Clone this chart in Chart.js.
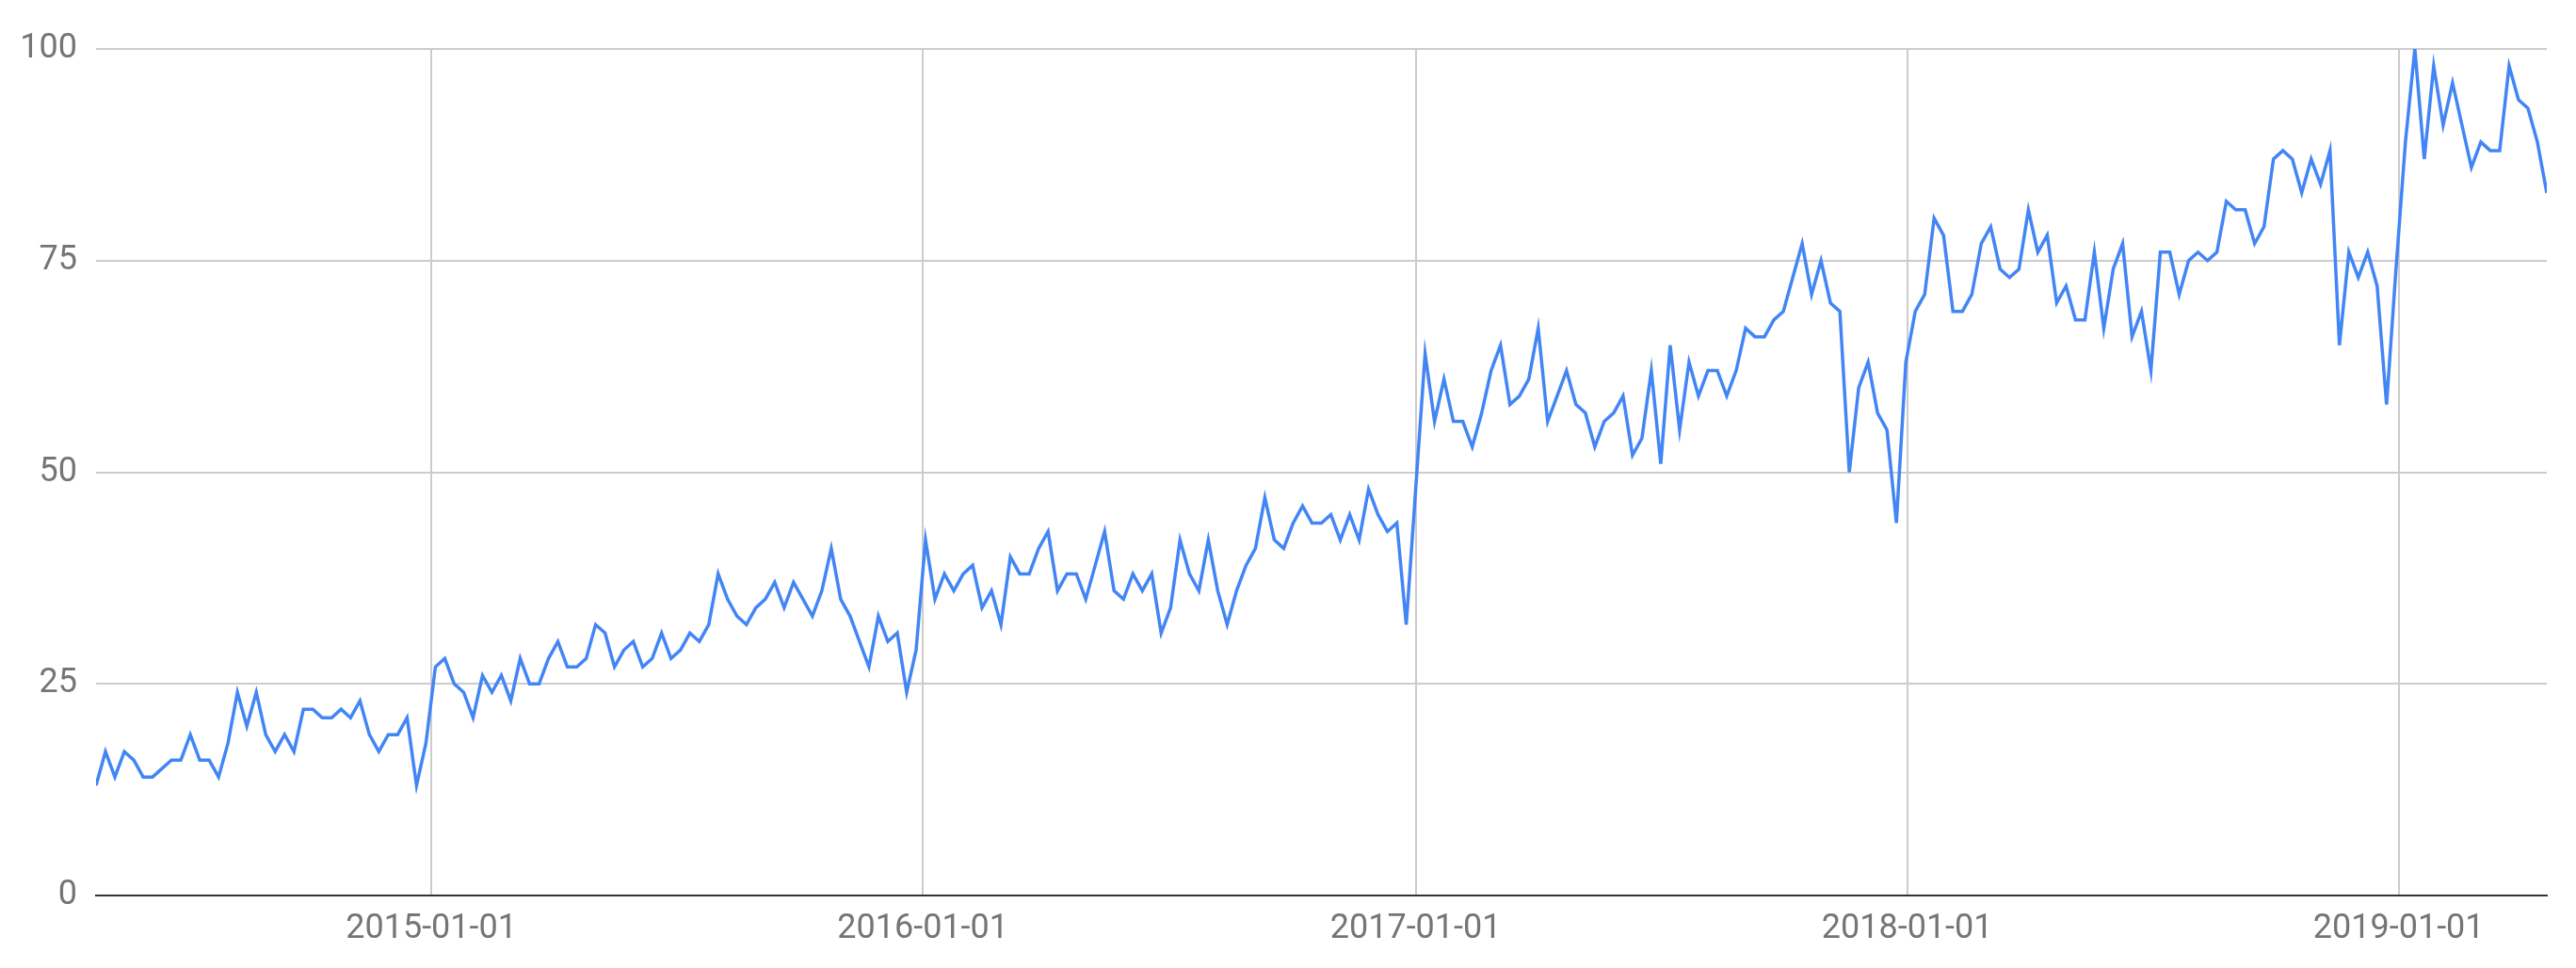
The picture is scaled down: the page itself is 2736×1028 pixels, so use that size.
<!DOCTYPE html>
<html>
<head>
<meta charset="utf-8">
<script src="https://cdn.jsdelivr.net/npm/chart.js@4"></script>
<style>
  html, body { margin: 0; padding: 0; background: #fff; }
  canvas { display: block; }
</style>
</head>
<body>
<canvas id="trendChart" width="2736" height="1028"></canvas>
<script>
// weekly series, first week starts on this Sunday
const firstWeek = '2014-04-27';

const weeklyValues = [
    13, 17, 14, 17, 16, 14, 14, 15, 16, 16, 19, 16, 16, 14, 18, 24, 20, 24,
    19, 17, 19, 17, 22, 22, 21, 21, 22, 21, 23, 19, 17, 19, 19, 21, 13, 18, 27, 28, 25, 24,
    21, 26, 24, 26, 23, 28, 25, 25, 28, 30, 27, 27, 28, 32, 31, 27, 29, 30, 27, 28, 31, 28,
    29, 31, 30, 32, 38, 35, 33, 32, 34, 35, 37, 34, 37, 35, 33, 36, 41, 35, 33, 30, 27, 33,
    30, 31, 24, 29, 42, 35, 38, 36, 38, 39, 34, 36, 32, 40, 38, 38, 41, 43, 36, 38, 38, 35,
    39, 43, 36, 35, 38, 36, 38, 31, 34, 42, 38, 36, 42, 36, 32, 36, 39, 41, 47, 42, 41, 44,
    46, 44, 44, 45, 42, 45, 42, 48, 45, 43, 44, 32, 48, 64, 56, 61, 56, 56, 53, 57, 62, 65,
    58, 59, 61, 67, 56, 59, 62, 58, 57, 53, 56, 57, 59, 52, 54, 62, 51, 65, 55, 63, 59, 62,
    62, 59, 62, 67, 66, 66, 68, 69, 73, 77, 71, 75, 70, 69, 50, 60, 63, 57, 55, 44, 63, 69,
    71, 80, 78, 69, 69, 71, 77, 79, 74, 73, 74, 81, 76, 78, 70, 72, 68, 68, 76, 67, 74, 77,
    66, 69, 62, 76, 76, 71, 75, 76, 75, 76, 82, 81, 81, 77, 79, 87, 88, 87, 83, 87, 84, 88,
    65, 76, 73, 76, 72, 58, 74, 89, 100, 87, 98, 91, 96, 91, 86, 89, 88, 88, 98, 94, 93, 89, 83
];

const xTickLabels = ['2015-01-01', '2016-01-01', '2017-01-01', '2018-01-01', '2019-01-01'];
const yTickValues = [0, 25, 50, 75, 100];

const DAY = 24 * 60 * 60 * 1000;
const startMs = Date.parse(firstWeek);
const points = weeklyValues.map((v, i) => ({ x: startMs + i * 7 * DAY, y: v }));

const labelFont = { family: 'Roboto', size: 36 };
const gridColor = '#cccccc';

new Chart(document.getElementById('trendChart').getContext('2d'), {
    type: 'line',
    data: {
        datasets: [{
            data: points,
            borderColor: '#4285f4',
            borderWidth: 3.5,
            pointRadius: 0,
            tension: 0,
            fill: false
        }]
    },
    options: {
        responsive: false,
        animation: false,
        layout: { padding: { left: 0, right: 31, top: 52, bottom: 0 } },
        plugins: {
            legend: { display: false },
            tooltip: { enabled: false }
        },
        scales: {
            x: {
                type: 'linear',
                min: points[0].x,
                max: points[points.length - 1].x,
                afterBuildTicks: (scale) => {
                    scale.ticks = xTickLabels.map(d => ({ value: Date.parse(d) }));
                },
                afterFit: (scale) => { scale.height = 77; },
                ticks: {
                    autoSkip: false,
                    maxRotation: 0,
                    padding: 14,
                    color: '#757575',
                    font: labelFont,
                    callback: (value) => new Date(value).toISOString().slice(0, 10)
                },
                grid: { color: gridColor, lineWidth: 2, drawTicks: false },
                border: { display: true, color: '#333333', width: 2 }
            },
            y: {
                min: 0,
                max: 100,
                afterBuildTicks: (scale) => {
                    scale.ticks = yTickValues.map(v => ({ value: v }));
                },
                afterFit: (scale) => { scale.width = 102; },
                ticks: {
                    padding: 20,
                    color: '#757575',
                    font: labelFont
                },
                grid: { color: gridColor, lineWidth: 2, drawTicks: false },
                border: { display: false }
            }
        }
    }
});
</script>
</body>
</html>
